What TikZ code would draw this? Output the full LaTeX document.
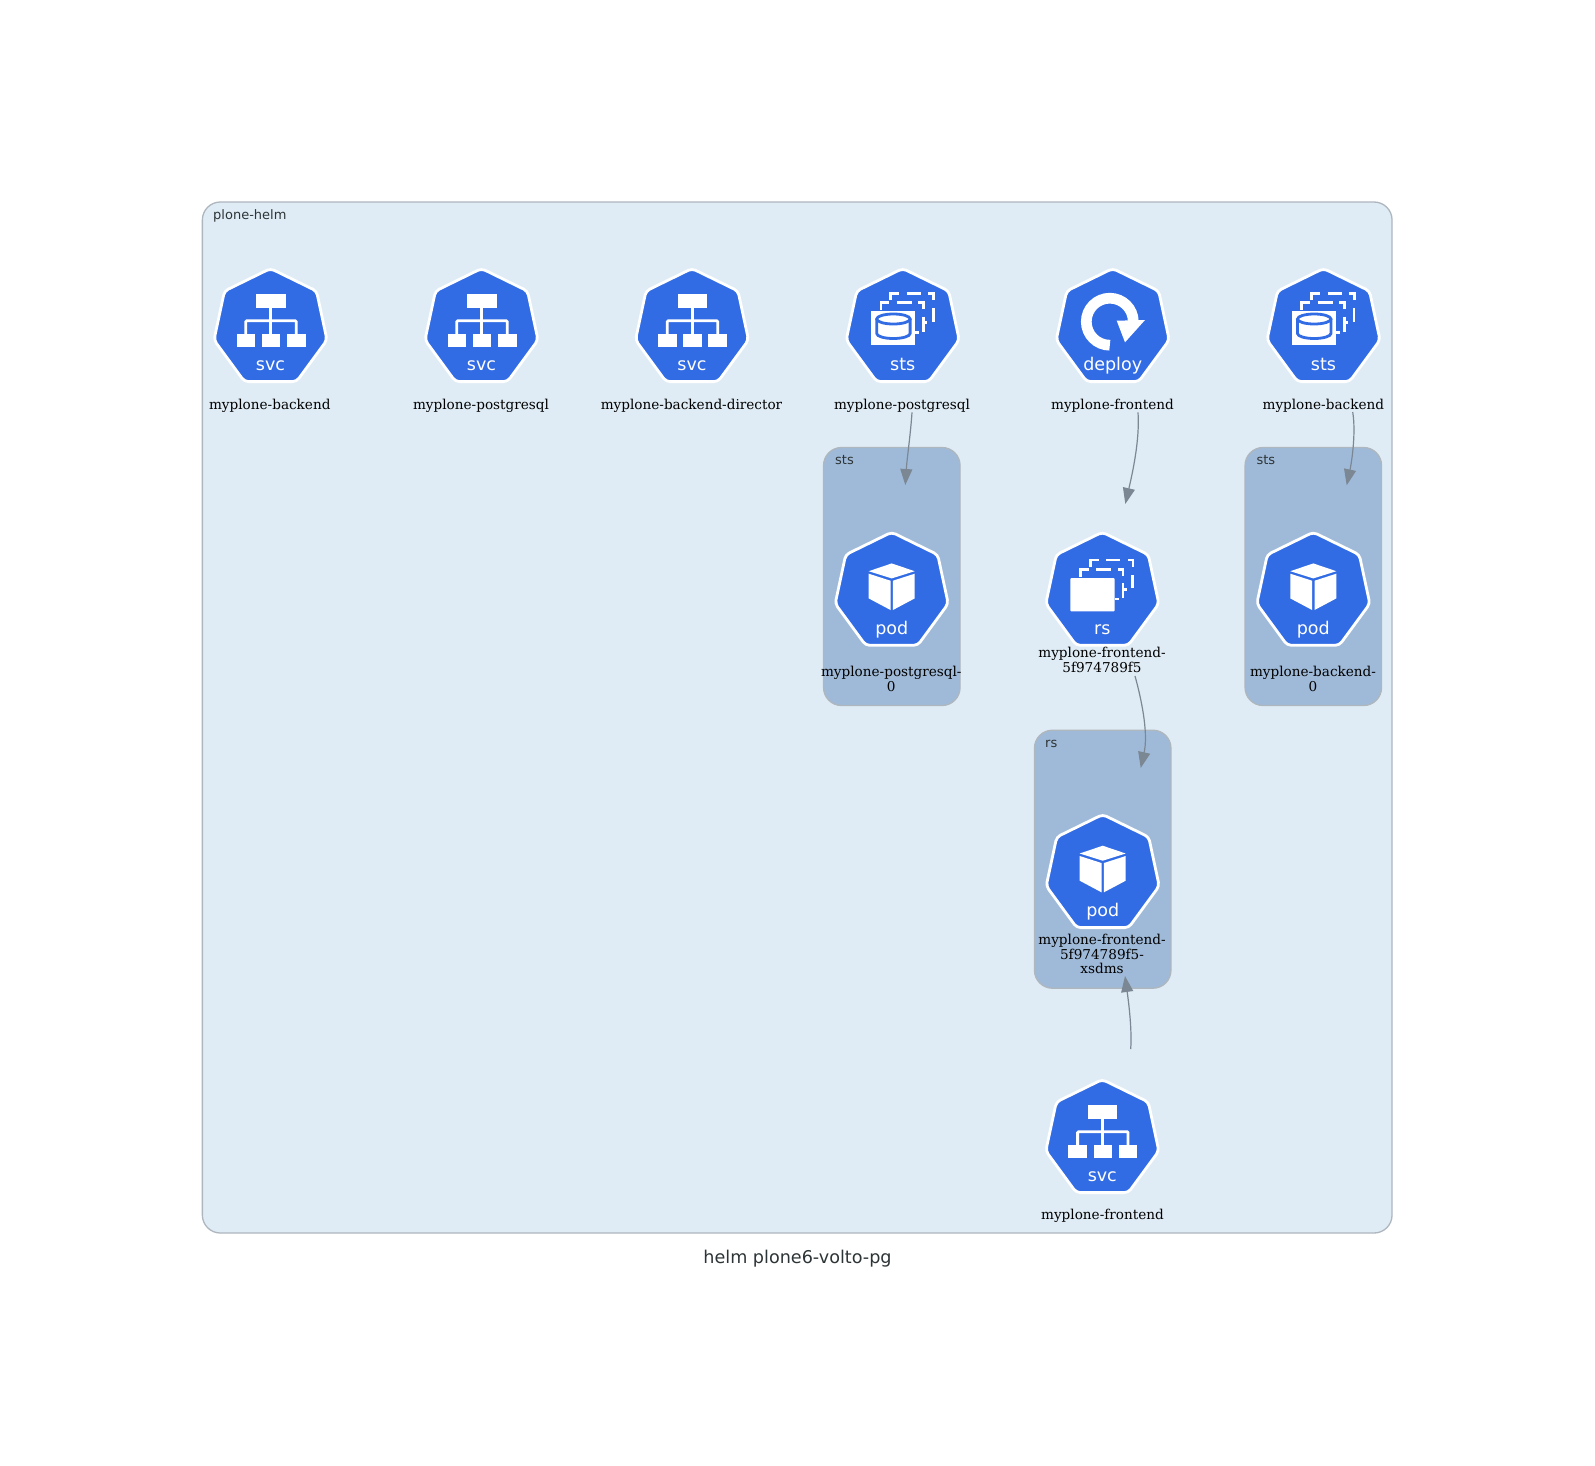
\documentclass[tikz,border=0pt]{standalone}
\usepackage{fontspec}
\setmainfont{DejaVu Serif}
\setsansfont{DejaVu Sans}
\usetikzlibrary{arrows.meta}

\definecolor{k8sblue}{HTML}{326CE5}
\definecolor{helmfill}{HTML}{DFECF5}
\definecolor{groupfill}{HTML}{9FBAD8}
\definecolor{boxline}{HTML}{AEB6BE}
\definecolor{edgeline}{HTML}{7B8894}
\definecolor{txtdark}{HTML}{2D3436}

\newcommand{\heptbody}{%
  \draw[heptline] (0,-0.5) -- (46,22) -- (56.5,71) -- (26,112.6) -- (-26,112.6) -- (-56.5,71) -- (-46,22) -- cycle;
  \coordinate (-top) at (0,0);
}
\newcommand{\stackdashes}{%
  \draw[dashline] (-12,31) -- (-12,24.3) -- (-3.7,24.3);
  \draw[dashline] (4,24.3) -- (18,24.3);
  \draw[dashline] (25.7,24.3) -- (30.7,24.3) -- (30.7,31);
  \draw[dashline] (30.5,39.3) -- (30.5,52.7);
  \draw[dashline] (20,53.7) -- (24.7,53.7);
  \draw[dashline] (-21.7,41) -- (-21.7,33.7) -- (-13.3,33.7);
  \draw[dashline] (-6,33.7) -- (9,33.7);
  \draw[dashline] (15.7,33.7) -- (20.7,33.7) -- (20.7,40.3);
  \draw[dashline] (20.7,47.7) -- (20.7,62.7);
  \draw[dashline] (12.3,63.3) -- (16.3,63.3);
}

\tikzset{
  x=1pt, y=-1pt,
  heptline/.style={draw=white, line width=2.8pt, fill=k8sblue, rounded corners=4pt},
  dashline/.style={draw=white, line width=2.8pt},
  whitefill/.style={fill=white, draw=none},
  icontxt/.style={text=white, font=\sffamily\fontsize{17.5}{20}\selectfont, anchor=base, inner sep=0pt},
  lbl/.style={font=\fontsize{13.6}{14.6}\selectfont, align=center, inner sep=0pt, text=black},
  grouplbl/.style={font=\sffamily\fontsize{13}{15}\selectfont, anchor=west, inner sep=0pt, text=txtdark},
  helmbox/.style={draw=boxline, line width=1.3pt, fill=helmfill, rounded corners=18pt, inner sep=0pt},
  groupbox/.style={draw=boxline, line width=1.3pt, fill=groupfill, rounded corners=18pt, inner sep=0pt, minimum width=136.5pt, minimum height=258pt},
  edge/.style={draw=edgeline, line width=1.2pt, -{Triangle[length=16pt,width=12pt,fill=edgeline]}},
  svcicon/.pic={
    \heptbody
    \fill[whitefill] (-14.3,25.3) rectangle (15,38.7);
    \fill[whitefill] (-34,65) rectangle (-15.3,78.3);
    \fill[whitefill] (-8.7,65) rectangle (9.7,78.3);
    \fill[whitefill] (16.3,65) rectangle (35,78.3);
    \draw[dashline] (0.3,38.7) -- (0.3,65);
    \draw[dashline,rounded corners=1pt] (-24.7,65) -- (-24.7,51.7) -- (25.7,51.7) -- (25.7,65);
    \node[icontxt] (-txt) at (0,101) {svc};
  },
  stsicon/.pic={
    \heptbody
    \stackdashes
    \fill[whitefill] (-32,42.3) rectangle (12.3,75.7);
    \draw[k8sblue,line width=2.8pt] (-26,50) -- (-26,64.5) arc[start angle=180,end angle=360,x radius=16.7,y radius=-5] -- (7.4,50);
    \draw[k8sblue,line width=2.8pt] (-9.3,50) ellipse[x radius=16.7,y radius=5];
    \node[icontxt] (-txt) at (0,101.5) {sts};
  },
  rsicon/.pic={
    \heptbody
    \begin{scope}[yshift=-3pt]
    \stackdashes
    \fill[whitefill,rounded corners=1pt] (-32,42.3) rectangle (12.3,75.7);
    \end{scope}
    \node[icontxt] (-txt) at (0,101.5) {rs};
  },
  podicon/.pic={
    \heptbody
    \fill[whitefill] (0,30.7) -- (23,38.5) -- (0,45.7) -- (-23,38.5) -- cycle;
    \fill[whitefill] (-23,41) -- (-1.2,48) -- (-1.2,77.3) -- (-23,65.7) -- cycle;
    \fill[whitefill] (23,41) -- (1.2,48) -- (1.2,77.3) -- (23,65.7) -- cycle;
    \node[icontxt] (-txt) at (0,101.5) {pod};
  },
  deployicon/.pic={
    \heptbody
    \begin{scope}[shift={(-2.9,52.7)},y=1pt]
    \draw[white,line width=10.7pt] (270:23.5) arc[start angle=270,end angle=0,radius=23.5];
    \end{scope}
    \fill[whitefill] (4,51.7) -- (32.3,51) -- (12.3,73.3) -- cycle;
    \node[icontxt] (-txt) at (0,101.5) {deploy};
  },
}

\begin{document}
\begin{tikzpicture}
\useasboundingbox (0,0) rectangle (1595,1465);

% outer box and the three groups
\node[helmbox,minimum width=1189.7pt,minimum height=1031pt] (boxhelm) at (797.2,717.5) {};
\node[grouplbl] (lblhelm) at (213,216) {plone-helm};
\node[groupbox] (boxstspg) at (891.8,576.5) {};
\node[grouplbl] (lblstspg) at (835,460.5) {sts};
\node[groupbox] (boxstsbackend) at (1313.3,576.5) {};
\node[grouplbl] (lblstsbackend) at (1256.3,460.5) {sts};
\node[groupbox] (boxrs) at (1102.7,859.2) {};
\node[grouplbl] (lblrs) at (1045,743.5) {rs};

% icons
\pic (svcbackend) at (270.5,269) {svcicon};
\pic (svcpg) at (481.5,269) {svcicon};
\pic (svcdirector) at (692,269) {svcicon};
\pic (stspg) at (902.7,269) {stsicon};
\pic (deployfrontend) at (1112.7,269) {deployicon};
\pic (stsbackend) at (1323.5,269) {stsicon};
\pic (podpg) at (891.7,532.7) {podicon};
\pic (rsfrontend) at (1102.3,532.7) {rsicon};
\pic (podbackend) at (1313.3,532.7) {podicon};
\pic (podfrontend) at (1102.7,815) {podicon};
\pic (svcfrontend) at (1102.3,1080) {svcicon};

% labels
\node[lbl] (lblsvcbackend) at (269.8,406) {myplone-backend};
\node[lbl] (lblsvcpg) at (481,406) {myplone-postgresql};
\node[lbl] (lblsvcdirector) at (691.5,406) {myplone-backend-director};
\node[lbl] (lblstspgname) at (902,406) {myplone-postgresql};
\node[lbl] (lbldeploy) at (1112.5,406) {myplone-frontend};
\node[lbl] (lblstsbackendname) at (1323.3,406) {myplone-backend};
\node[lbl] (lblpodpg) at (891.3,679.2) {myplone-postgresql-\\0};
\node[lbl] (lblrsname) at (1102,660) {myplone-frontend-\\5f974789f5};
\node[lbl] (lblpodbackend) at (1313,679.2) {myplone-backend-\\0};
\node[lbl] (lblpodfrontend) at (1102,954.2) {myplone-frontend-\\5f974789f5-\\xsdms};
\node[lbl] (lblsvcfrontend) at (1102.5,1216) {myplone-frontend};

\node[font=\sffamily\fontsize{17.6}{20}\selectfont,text=txtdark,inner sep=0pt] (lbltitle) at (797.5,1259) {helm plone6-volto-pg};

% connectors
\draw[edge] ([xshift=10pt,yshift=-6.3pt]lblstspgname.center) .. controls +(-1.5,22.7) and +(1.7,-27) .. ([xshift=13.6pt,yshift=47.7pt]podpg-top);
\draw[edge] ([xshift=25.5pt,yshift=-6.3pt]lbldeploy.center) .. controls +(2,28) and +(6.7,-29) .. ([xshift=23pt,yshift=28.7pt]rsfrontend-top);
\draw[edge] ([xshift=29.4pt,yshift=-6pt]lblstsbackendname.center) .. controls +(3.3,20) and +(5.3,-25) .. ([xshift=33.4pt,yshift=47.4pt]podbackend-top);
\draw[edge] ([xshift=33pt,yshift=-16pt]lblrsname.center) .. controls +(8,29) and +(7.3,-33) .. ([xshift=38pt,yshift=47pt]podfrontend-top);
\draw[edge] ([xshift=28.4pt,yshift=31pt]svcfrontend-top) .. controls +(1.3,-19) and +(4,29) .. ([xshift=23pt,yshift=-21.8pt]lblpodfrontend.center);
\end{tikzpicture}
\end{document}
